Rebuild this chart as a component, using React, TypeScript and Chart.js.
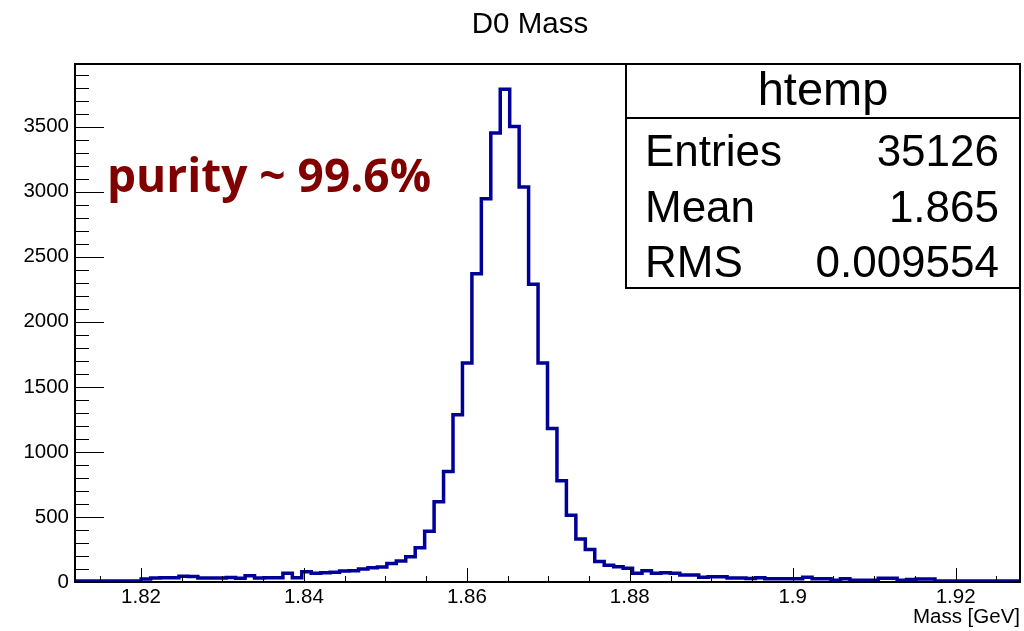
import React, { useEffect, useRef } from 'react';
import { Chart, registerables } from 'chart.js';

Chart.register(...registerables);

// ---- data ----
const histTitle = 'D0 Mass';
const xAxisTitle = 'Mass [GeV]';
const xMin = 1.8119;
const xMax = 1.9279;
const yMax = 3982;

const binContents: number[] = [
  8, 8, 8, 8, 8, 8, 8, 23, 30, 33,
  33, 44, 42, 31, 31, 31, 35, 28, 48, 30,
  33, 33, 67, 33, 79, 67, 72, 74, 85, 87,
  100, 110, 115, 143, 161, 195, 264, 391, 617, 849,
  1286, 1684, 2369, 2946, 3451, 3787, 3501, 3036, 2289, 1684,
  1180, 778, 513, 330, 250, 158, 129, 118, 105, 67,
  87, 67, 72, 67, 54, 54, 36, 41, 41, 31,
  31, 26, 33, 25, 25, 25, 25, 36, 25, 25,
  13, 25, 13, 13, 13, 28, 28, 14, 20, 23,
  23, 8, 8, 8, 8, 8, 8, 8, 8, 8,
];

const xTickValues = [1.82, 1.84, 1.86, 1.88, 1.9, 1.92];
const xTickLabels = ['1.82', '1.84', '1.86', '1.88', '1.9', '1.92'];
const yTickValues = [0, 500, 1000, 1500, 2000, 2500, 3000, 3500];
const yTickLabels = ['0', '500', '1000', '1500', '2000', '2500', '3000', '3500'];

const statsName = 'htemp';
const statsLabels = ['Entries', 'Mean', 'RMS'];
const statsValues = ['35126', '1.865', '0.009554'];
const annotationText = 'purity ~ 99.6%';

const FONT = '"Liberation Sans", Arial, Helvetica, sans-serif';

const rootPlugin = {
  id: 'rootDecor',
  afterDraw(chart: any) {
    const ctx: CanvasRenderingContext2D = chart.ctx;
    const area = chart.chartArea;
    const xs = chart.scales.x;
    const ys = chart.scales.y;
    ctx.save();

    // title
    ctx.fillStyle = '#000';
    ctx.font = `29.5px ${FONT}`;
    ctx.textAlign = 'center';
    ctx.textBaseline = 'alphabetic';
    ctx.fillText(histTitle, 530, 33);

    // tick marks (inside the frame)
    ctx.strokeStyle = '#000';
    ctx.lineWidth = 1;
    ctx.beginPath();
    for (let k = 363; k <= 385; k++) {
      const v = k * 0.005;
      if (v < xMin || v > xMax) continue;
      const px = Math.round(xs.getPixelForValue(v)) + 0.5;
      const isMajor = k % 4 === 0;
      ctx.moveTo(px, area.bottom);
      ctx.lineTo(px, area.bottom - (isMajor ? 14 : 6));
    }
    for (let c = 0; c <= 3900; c += 100) {
      const py = Math.round(ys.getPixelForValue(c)) + 0.5;
      const isMajor = c % 500 === 0;
      ctx.moveTo(area.left, py);
      ctx.lineTo(area.left + (isMajor ? 29 : 14), py);
    }
    ctx.stroke();

    // frame
    ctx.lineWidth = 2;
    ctx.strokeRect(area.left, area.top, area.right - area.left, area.bottom - area.top);

    // stats box
    const bx = 626, by = 64, bw = area.right - 626, bh = 224;
    ctx.fillStyle = '#fff';
    ctx.fillRect(bx, by, bw, bh);
    ctx.lineWidth = 2;
    ctx.strokeRect(bx, by, bw, bh);
    ctx.beginPath();
    ctx.moveTo(bx, 118);
    ctx.lineTo(bx + bw, 118);
    ctx.stroke();
    ctx.fillStyle = '#000';
    ctx.font = `47px ${FONT}`;
    ctx.textBaseline = 'alphabetic';
    ctx.textAlign = 'center';
    ctx.fillText(statsName, bx + bw / 2, 105);
    ctx.font = `44px ${FONT}`;
    const baselines = [166, 221.5, 277];
    statsLabels.forEach((lab, i) => {
      ctx.textAlign = 'left';
      ctx.fillText(lab, 645, baselines[i]);
      ctx.textAlign = 'right';
      ctx.fillText(statsValues[i], 999, baselines[i]);
    });

    // annotation
    ctx.fillStyle = '#800000';
    ctx.font = `bold 46px "Open Sans", sans-serif`;
    ctx.textAlign = 'left';
    ctx.fillText(annotationText, 107, 192);

    ctx.restore();
  },
};

export default function App() {
  const ref = useRef<HTMLCanvasElement | null>(null);

  useEffect(() => {
    if (!ref.current) return;
    Chart.defaults.font.family = FONT;
    Chart.defaults.color = '#000';
    const binWidth = (xMax - xMin) / binContents.length;
    const points = binContents.map((v, i) => ({ x: xMin + i * binWidth, y: v }));
    points.push({ x: xMax, y: binContents[binContents.length - 1] });

    const chart = new Chart(ref.current, {
      type: 'line',
      data: {
        datasets: [
          {
            label: 'htemp',
            data: points,
            stepped: 'before',
            borderColor: '#000099',
            borderWidth: 3.5,
            pointRadius: 0,
            fill: false,
          },
        ],
      },
      options: {
        animation: false,
        responsive: false,
        devicePixelRatio: 1,
        layout: { padding: { left: 0, right: 4, top: 64, bottom: 0 } },
        plugins: {
          legend: { display: false },
          tooltip: { enabled: false },
          title: { display: false },
        },
        scales: {
          x: {
            type: 'linear',
            min: xMin,
            max: xMax,
            grid: { display: false, drawTicks: false },
            border: { display: false },
            afterBuildTicks: (s: any) => {
              s.ticks = xTickValues.map((v) => ({ value: v }));
            },
            afterFit: (s: any) => {
              s.height = 49;
            },
            ticks: {
              padding: 3,
              maxRotation: 0,
              autoSkip: false,
              color: '#000',
              font: { family: FONT, size: 20.5 },
              callback: (_v: any, i: number) => xTickLabels[i],
            },
            title: {
              display: true,
              text: xAxisTitle,
              align: 'end',
              color: '#000',
              font: { family: FONT, size: 20.5 },
              padding: { top: 0, bottom: 1 },
            },
          },
          y: {
            type: 'linear',
            min: 0,
            max: yMax,
            grid: { display: false, drawTicks: false },
            border: { display: false },
            afterBuildTicks: (s: any) => {
              s.ticks = yTickValues.map((v) => ({ value: v }));
            },
            afterFit: (s: any) => {
              s.width = 75;
            },
            ticks: {
              padding: 6,
              autoSkip: false,
              color: '#000',
              font: { family: FONT, size: 20.5 },
              callback: (_v: any, i: number) => yTickLabels[i],
            },
          },
        },
      },
      plugins: [rootPlugin],
    } as any);

    return () => chart.destroy();
  }, []);

  return (
    <div style={{ position: 'absolute', left: 0, top: 0, width: 1024, height: 631, background: '#fff' }}>
      <canvas ref={ref} width={1024} height={631} style={{ display: 'block' }} />
    </div>
  );
}
